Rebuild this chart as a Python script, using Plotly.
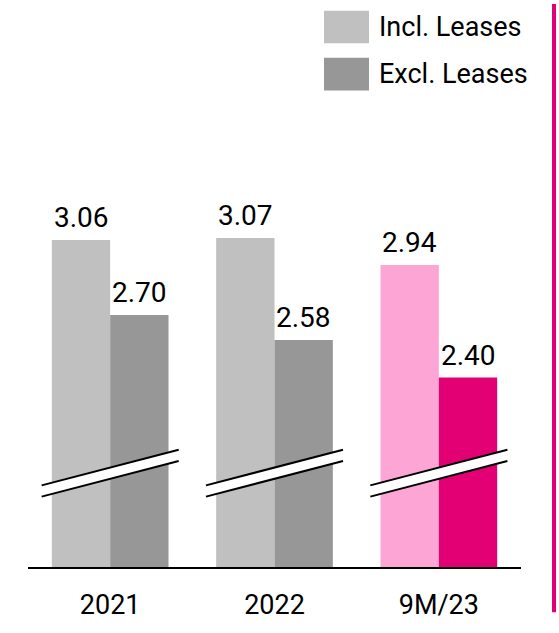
import plotly.graph_objects as go

categories = ["2021", "2022", "9M/23"]
incl_leases = [3.06, 3.07, 2.94]
excl_leases = [2.70, 2.58, 2.40]
series_names = ["Incl. Leases", "Excl. Leases"]

incl_colors = ["#c0c0c0", "#c0c0c0", "#fda5d4"]
excl_colors = ["#979797", "#979797", "#e20074"]

W, H = 559, 633
L, R, T, B = 28, 38, 100, 47
PW, PH = W - L - R, H - T - B
Y0 = 1.49
PX_PER_UNIT = 216.7
Y1 = Y0 + PH / PX_PER_UNIT
FONT = "Roboto"
FS = 27
FS_VAL = 28
BAR_GAP = 0.29

def px_x(px):
    return (px - L) / PW

def px_y(py):
    return (H - B - py) / PH

xs = list(range(len(categories)))

fig = go.Figure()
for vals, cols, name in ((incl_leases, incl_colors, series_names[0]),
                         (excl_leases, excl_colors, series_names[1])):
    fig.add_trace(go.Bar(
        x=xs, y=vals, name=name,
        marker=dict(color=cols, line=dict(width=0)),
        showlegend=False, hoverinfo="skip",
    ))

annotations = []
# value labels above each bar (offset = half a bar width in the group)
half_bar = (1 - BAR_GAP) / 4
for offs, vals in ((-half_bar, incl_leases), (half_bar, excl_leases)):
    for i, v in zip(xs, vals):
        annotations.append(dict(
            xref="x", yref="y", x=i + offs, y=v, text=f"{v:.2f}",
            showarrow=False, xanchor="center", yanchor="bottom", yshift=4,
            font=dict(family=FONT, size=FS_VAL, color="#000000"),
        ))

shapes = []
# axis break marks
half = 0.417
dy_gap = 0.054
for i in xs:
    yl_top, yr_top = 1.882, 2.053
    x0, x1 = i - half, i + half
    shapes.append(dict(
        type="path", xref="x", yref="y",
        path=f"M {x0},{yl_top} L {x1},{yr_top} L {x1},{yr_top - dy_gap} L {x0},{yl_top - dy_gap} Z",
        fillcolor="#ffffff", line=dict(width=0), layer="above",
    ))
    for off in (0, dy_gap):
        shapes.append(dict(
            type="line", xref="x", yref="y",
            x0=x0, y0=yl_top - off, x1=x1, y1=yr_top - off,
            line=dict(color="#000000", width=2), layer="above",
        ))

# magenta vertical rule at right edge
shapes.append(dict(
    type="rect", xref="paper", yref="paper",
    x0=px_x(552), x1=px_x(556), y0=px_y(0), y1=px_y(H),
    fillcolor="#e20074", line=dict(width=0),
))

# custom legend
legend_colors = ["#c0c0c0", "#979797"]
legend_rows = [(7, 41), (56, 90)]
for name, col, (ya, yb) in zip(series_names, legend_colors, legend_rows):
    shapes.append(dict(
        type="rect", xref="paper", yref="paper",
        x0=px_x(324), x1=px_x(369), y0=px_y(yb), y1=px_y(ya),
        fillcolor=col, line=dict(width=0),
    ))
    annotations.append(dict(
        xref="paper", yref="paper", x=px_x(377), y=px_y((ya + yb) / 2),
        text=name, showarrow=False, xanchor="left", yanchor="middle",
        font=dict(family=FONT, size=FS, color="#000000"),
    ))

fig.update_layout(
    width=W, height=H,
    margin=dict(l=L, r=R, t=T, b=B, pad=0),
    paper_bgcolor="#ffffff", plot_bgcolor="#ffffff",
    barmode="group", bargap=BAR_GAP, bargroupgap=0,
    shapes=shapes, annotations=annotations,
    showlegend=False,
    font=dict(family=FONT, size=FS, color="#000000"),
)
fig.update_xaxes(
    range=[-0.5, 2.5], tickvals=xs, ticktext=categories,
    showline=True, linecolor="#000000", linewidth=2,
    showgrid=False, zeroline=False, ticks="",
    ticklabelstandoff=13,
    tickfont=dict(family=FONT, size=FS, color="#000000"),
    fixedrange=True,
)
fig.update_yaxes(
    range=[Y0, Y1], visible=False, showgrid=False, zeroline=False,
    fixedrange=True,
)

fig.write_html(
    "out.html",
    config={"displayModeBar": False},
    post_script=(
        "document.body.style.margin='0';"
        "document.body.style.overflow='hidden';"
    ),
)
